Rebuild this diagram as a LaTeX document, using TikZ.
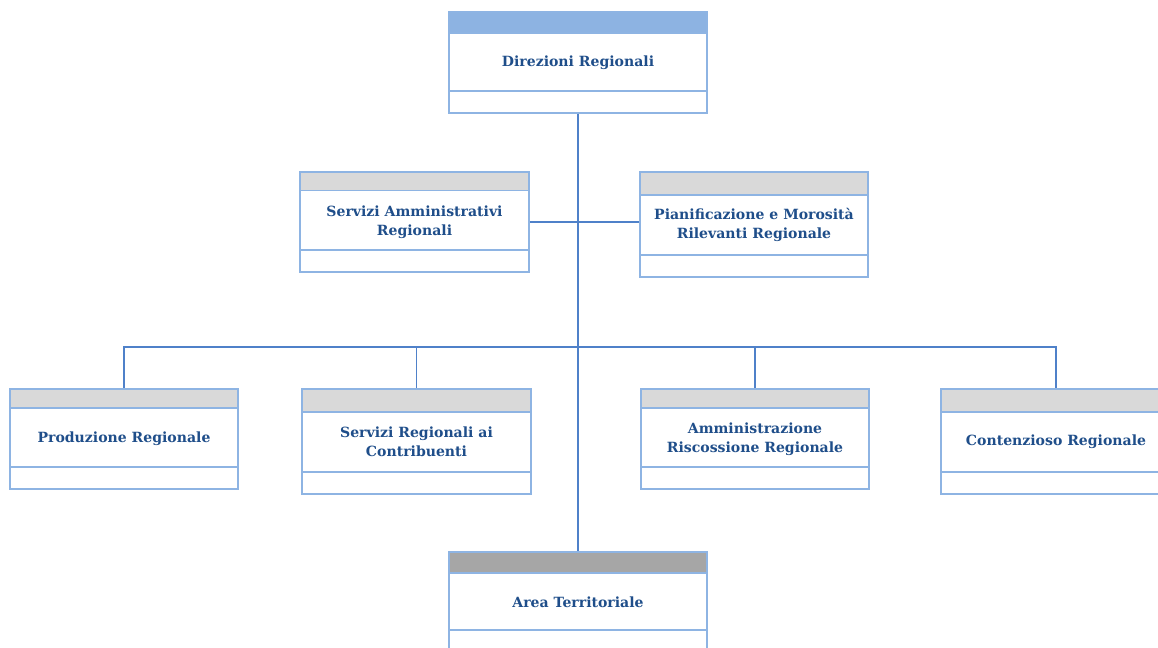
\documentclass[tikz,border=0pt]{standalone}
\usepackage{fontspec}
\setmainfont{DejaVu Serif}
\usetikzlibrary{positioning}
\definecolor{linkblue}{RGB}{79,129,201}
\definecolor{edgeblue}{RGB}{142,180,227}
\definecolor{topfill}{RGB}{141,179,226}
\definecolor{greyfill}{RGB}{217,217,217}
\definecolor{darkfill}{RGB}{166,166,166}
\definecolor{labelblue}{RGB}{31,78,138}

\begin{document}
\begin{tikzpicture}
    [
        x=0.02cm, y=-0.02cm,
        orgbox/.style 2 args={rectangle, draw=edgeblue, fill=white, line width=1pt, minimum width=4.58cm, minimum height=2cm, inner sep=0pt, align=center, text=labelblue, font=\bfseries\fontsize{8}{10.8}\selectfont,
            path picture={
                \fill[#1] (path picture bounding box.north west) rectangle ([yshift=-#2]path picture bounding box.north east) ;
                \draw[edgeblue, line width=1pt] ([yshift=-#2]path picture bounding box.north west) -- ([yshift=-#2]path picture bounding box.north east) ;
                \draw[edgeblue, line width=1pt] ([yshift=0.44cm]path picture bounding box.south west) -- ([yshift=0.44cm]path picture bounding box.south east) ;
            }},
        link/.style={draw=linkblue, line width=1.1pt},
    ]
        \useasboundingbox (0,0) rectangle (1158,647) ;
        \clip (0,0) rectangle (1158,647) ;
        \node[orgbox={topfill}{0.42cm}, minimum width=5.16cm, minimum height=2.02cm] (dir) at (578,62.5) {Direzioni Regionali} ;
        \node[orgbox={greyfill}{0.37cm}, minimum width=4.58cm, minimum height=2cm] (sam) at (414.5,222) {Servizi Amministrativi\\Regionali} ;
        \node[orgbox={greyfill}{0.46cm}, minimum width=4.56cm, minimum height=2.1cm] (pmr) at (754,224.5) {Pianificazione e Morosità\\Rilevanti Regionale} ;
        \node[orgbox={greyfill}{0.38cm}, minimum width=4.56cm, minimum height=2cm] (prod) at (124,439) {Produzione Regionale} ;
        \node[orgbox={greyfill}{0.46cm}, minimum width=4.58cm, minimum height=2.1cm] (src) at (416.5,441.5) {Servizi Regionali ai\\Contribuenti} ;
        \node[orgbox={greyfill}{0.38cm}, minimum width=4.56cm, minimum height=2cm] (arr) at (755,439) {Amministrazione\\Riscossione Regionale} ;
        \node[orgbox={greyfill}{0.46cm}, minimum width=4.6cm, minimum height=2.1cm] (cont) at (1056,441.5) {Contenzioso Regionale} ;
        \node[orgbox={darkfill}{0.42cm}, minimum width=5.16cm, minimum height=2cm] (area) at (578,602) {Area Territoriale} ;
        \coordinate (bus) at (578,347) ;
        \draw[link] (dir) -- (area) ;
        \draw[link] (sam.east) -- (sam.east -| pmr.west) ;
        \draw[link] (prod.north) -- (prod.north |- bus) -- (cont.north |- bus) -- (cont.north) ;
        \draw[link] (src.north) -- (src.north |- bus) ;
        \draw[link] (arr.north) -- (arr.north |- bus) ;
    \end{tikzpicture}
\end{document}
